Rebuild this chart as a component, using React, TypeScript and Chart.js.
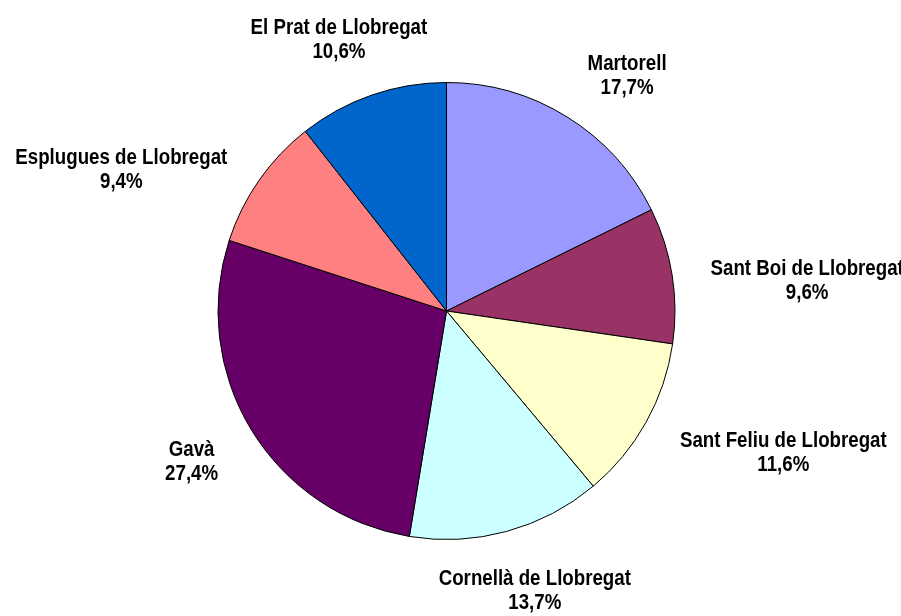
import React, { useEffect, useRef } from "react";
import { Chart, registerables } from "chart.js";

Chart.register(...registerables);

const categories = [
  "Martorell",
  "Sant Boi de Llobregat",
  "Sant Feliu de Llobregat",
  "Cornellà de Llobregat",
  "Gavà",
  "Esplugues de Llobregat",
  "El Prat de Llobregat",
];
const shares = [17.7, 9.6, 11.6, 13.7, 27.4, 9.4, 10.6];
const sliceColors = ["#9999FF", "#993366", "#FFFFCC", "#CCFFFF", "#660066", "#FF8080", "#0066CC"];

const FONT = "bold 22px 'Liberation Sans', Arial, sans-serif";
const NARROW = 0.85;

const labelPlugin = {
  id: "outerLabels",
  afterDatasetsDraw(chart: any) {
    const ctx = chart.ctx;
    const meta = chart.getDatasetMeta(0);
    const data = chart.data.datasets[0].data as number[];
    ctx.save();
    ctx.font = FONT;
    ctx.fillStyle = "#000";
    ctx.textAlign = "center";
    ctx.textBaseline = "alphabetic";
    const lineGap = 24;
    const capH = 16;
    const h = capH + lineGap;
    meta.data.forEach((arc: any, i: number) => {
      const { startAngle, endAngle, outerRadius, x, y } = arc.getProps(
        ["startAngle", "endAngle", "outerRadius", "x", "y"],
        true
      );
      const mid = (startAngle + endAngle) / 2;
      const dx = Math.cos(mid);
      const dy = Math.sin(mid);
      const lines = [String(chart.data.labels[i]), data[i].toFixed(1).replace(".", ",") + "%"];
      const w = Math.max(...lines.map((l) => ctx.measureText(l).width)) * NARROW;
      const d = outerRadius * 1.17;
      const px = x + dx * d;
      const py = y + dy * d;
      let cx: number, cy: number;
      if (Math.abs(dx) > 0.5) {
        cx = px + Math.sign(dx) * (w / 2);
        cy = py + (dy < -0.7 ? -h / 4 : h / 4);
      } else {
        cx = px + dx * (w / 2) * 0.7;
        cy = py + Math.sign(dy) * (h / 2);
      }
      const top = cy - h / 2;
      lines.forEach((l, k) => {
        ctx.save();
        ctx.translate(cx, top + capH + k * lineGap);
        ctx.scale(NARROW, 1);
        ctx.fillText(l, 0, 0);
        ctx.restore();
      });
    });
    ctx.restore();
  },
};

export default function App() {
  const ref = useRef<HTMLCanvasElement>(null);
  useEffect(() => {
    document.body.style.margin = "0";
    const chart = new Chart(ref.current!, {
      type: "pie",
      data: {
        labels: categories,
        datasets: [
          {
            data: shares,
            backgroundColor: sliceColors,
            borderColor: "#000",
            borderWidth: 1,
          },
        ],
      },
      options: {
        responsive: false,
        animation: false,
        layout: { padding: { top: 82, bottom: 76, left: 196, right: 204 } },
        plugins: {
          legend: { display: false },
          tooltip: { enabled: false },
        },
      },
      plugins: [labelPlugin],
    });
    return () => chart.destroy();
  }, []);
  return <canvas ref={ref} width={901} height={616} style={{ display: "block" }} />;
}
